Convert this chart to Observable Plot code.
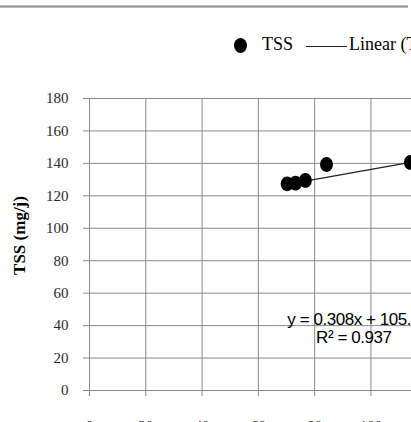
<!DOCTYPE html>
<html>
<head>
<meta charset="utf-8">
<script src="https://cdn.jsdelivr.net/npm/d3@7"></script>
<script src="https://cdn.jsdelivr.net/npm/@observablehq/plot@0.6"></script>
<style>
  html, body { margin: 0; padding: 0; background: #fff; overflow: hidden; }
  #page { position: relative; width: 411px; height: 422px; overflow: hidden; }
  #head { position: relative; width: 411px; height: 80px; }
  #topline { position: absolute; left: 0; top: 5px; width: 408px; height: 3px;
             background: linear-gradient(#c8c8c8, #9a9a9a, #c8c8c8); }
  .key-dot { position: absolute; left: 233.5px; top: 37.5px; width: 13px; height: 15px;
             border-radius: 50%; background: #000; }
  .key-line { position: absolute; left: 306px; top: 46px; width: 41px; height: 1.3px; background: #222; }
  .key-text { position: absolute; font-family: "Liberation Serif", "Times New Roman", serif;
              font-size: 18px; line-height: 16px; color: #000; white-space: nowrap; }
  /* tighter spacing for the regression equation */
  g[font-family="Liberation Sans"] text { letter-spacing: -0.45px; }
</style>
</head>
<body>
<div id="page">
  <div id="head">
    <div id="topline"></div>
    <div class="key-dot"></div>
    <span class="key-text" style="left:262px; top:36px;">TSS</span>
    <div class="key-line"></div>
    <span class="key-text" style="left:349px; top:36px;">Linear (TSS)</span>
  </div>
  <div id="chart"></div>
</div>
<script>
// Axis ticks
const xTicks = [0, 20, 40, 60, 80, 100];
const yTicks = [0, 20, 40, 60, 80, 100, 120, 140, 160, 180];

// TSS observations
const tssX = [70.2, 73.2, 76.7, 84.2, 114.0];
const tssY = [127.4, 127.8, 129.5, 139.3, 140.6];

// Linear trend line
const slope = 0.308;
const intercept = 105.5;
const rSquared = 0.937;

const points = tssX.map((x, i) => ({x, y: tssY[i]}));
const xMin = d3.min(tssX), xMax = d3.max(tssX);
const trend = [xMin, xMax].map(x => ({x, y: slope * x + intercept}));

// Slightly tall elliptical marker
const ellipse = {
  draw(context) {
    const rx = 6.4, ry = 7.4, k = 0.5523;
    context.moveTo(rx, 0);
    context.bezierCurveTo(rx, k * ry, k * rx, ry, 0, ry);
    context.bezierCurveTo(-k * rx, ry, -rx, k * ry, -rx, 0);
    context.bezierCurveTo(-rx, -k * ry, -k * rx, -ry, 0, -ry);
    context.bezierCurveTo(k * rx, -ry, rx, -k * ry, rx, 0);
    context.closePath();
  }
};

const chart = Plot.plot({
  width: 411,
  height: 342,
  marginLeft: 89,
  marginRight: 0,
  marginTop: 18,
  marginBottom: 32,
  style: {fontFamily: "'Liberation Serif', 'Times New Roman', serif", fontSize: "15px", color: "#2a2a2a", background: "#fff"},
  x: {domain: [0, 114.4], axis: null},
  y: {domain: [0, 180], axis: null},
  marks: [
    Plot.gridY({ticks: yTicks, stroke: "#8a8a8a", strokeOpacity: 1}),
    Plot.gridX({ticks: xTicks, stroke: "#8a8a8a", strokeOpacity: 1}),
    Plot.axisY({ticks: yTicks, tickSize: 6, tickPadding: 15, stroke: "#8a8a8a", label: null}),
    Plot.axisX({ticks: xTicks, tickSize: 6, tickPadding: 24, stroke: "#8a8a8a", label: null}),
    Plot.line(trend, {x: "x", y: "y", stroke: "#222", strokeWidth: 1.3}),
    Plot.dot(points, {x: "x", y: "y", symbol: ellipse, r: 7, fill: "#000", stroke: "none"}),
    Plot.text([`y = ${slope}x + ${intercept}`], {x: 70.3, y: 40.1, text: d => d, textAnchor: "start", lineAnchor: "bottom",
      fontFamily: "Liberation Sans", fontSize: 17, fill: "#000"}),
    Plot.text([`R² = ${rSquared}`], {x: 80.5, y: 29.0, text: d => d, textAnchor: "start", lineAnchor: "bottom",
      fontFamily: "Liberation Sans", fontSize: 17, fill: "#000"}),
    Plot.text(["TSS (mg/j)"], {frameAnchor: "left", dx: -70, dy: -9, rotate: -90, text: d => d,
      textAnchor: "middle", lineAnchor: "middle", fontWeight: "bold", fontSize: 17, fill: "#000"})
  ]
});
document.getElementById("chart").appendChild(chart);
</script>
</body>
</html>
